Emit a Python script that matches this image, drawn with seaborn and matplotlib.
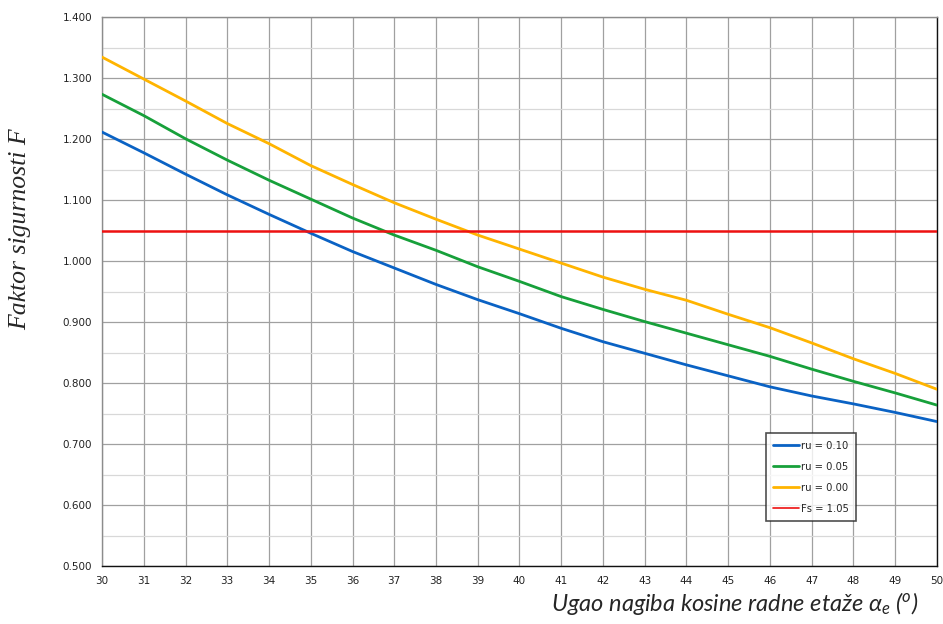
import numpy as np
import pandas as pd
import matplotlib
matplotlib.use("Agg")
import matplotlib.pyplot as plt
from matplotlib.lines import Line2D
import seaborn as sns

# podaci ocitani sa dijagrama
angle = list(range(30, 51))
ru_010 = [1.212, 1.178, 1.143, 1.109, 1.077, 1.046, 1.016, 0.989, 0.962, 0.937, 0.914,
          0.890, 0.868, 0.849, 0.830, 0.812, 0.794, 0.779, 0.766, 0.752, 0.737]
ru_005 = [1.274, 1.239, 1.201, 1.166, 1.133, 1.102, 1.071, 1.043, 1.018, 0.991, 0.967,
          0.942, 0.921, 0.901, 0.882, 0.863, 0.844, 0.823, 0.803, 0.784, 0.764]
ru_000 = [1.335, 1.299, 1.263, 1.226, 1.193, 1.157, 1.126, 1.096, 1.069, 1.043, 1.020,
          0.997, 0.974, 0.954, 0.936, 0.913, 0.891, 0.866, 0.840, 0.816, 0.790]
fs_limit = 1.05
series_labels = ["ru = 0.10", "ru = 0.05", "ru = 0.00"]
fs_label = "Fs = 1.05"
colors = ["#0a62c4", "#17a03a", "#ffb400"]
fs_color = "#ee1111"

df = pd.DataFrame({
    "angle": angle * 3,
    "F": ru_010 + ru_005 + ru_000,
    "serija": [series_labels[0]] * len(angle) + [series_labels[1]] * len(angle)
              + [series_labels[2]] * len(angle),
})

sns.set_style("white")
plt.rcParams["font.family"] = ["DejaVu Sans"]
plt.rcParams["mathtext.fontset"] = "custom"
plt.rcParams["mathtext.it"] = "Lato:italic"
plt.rcParams["mathtext.rm"] = "Lato:italic"

fig = plt.figure(figsize=(9.43, 6.24), dpi=100)
ax = fig.add_axes([0.1082, 0.0929, 0.8854, 0.8791])

sns.lineplot(data=df, x="angle", y="F", hue="serija", palette=colors,
             hue_order=series_labels, linewidth=2.0, ax=ax, legend=False, zorder=3)
ax.axhline(fs_limit, color=fs_color, linewidth=1.8, zorder=4)

ax.set_xlim(30, 50)
ax.set_ylim(0.5, 1.4)
ax.set_xticks(angle)
ax.set_yticks(np.arange(0.5, 1.4001, 0.1))
ax.set_yticks(np.arange(0.55, 1.4, 0.1), minor=True)
ax.yaxis.set_major_formatter(matplotlib.ticker.FormatStrFormatter("%.3f"))
ax.grid(which="major", color="#a0a0a0", linewidth=0.9, zorder=0)
ax.grid(which="minor", axis="y", color="#d8d8d8", linewidth=0.9, zorder=0)
ax.set_axisbelow(True)
ax.tick_params(which="major", length=4, width=0.8, color="#555555",
               labelsize=7.5, labelcolor="#222222", pad=3, direction="out")
ax.tick_params(which="minor", length=0)
ax.set_xlabel("")
ax.set_ylabel("")

for side in ["left", "top"]:
    ax.spines[side].set_color("#8c8c8c")
for side in ["bottom", "right"]:
    ax.spines[side].set_color("#111111")
for sp in ax.spines.values():
    sp.set_linewidth(1.0)
    sp.set_visible(True)

handles = [Line2D([0], [0], color=c, linewidth=2.0) for c in colors]
handles.append(Line2D([0], [0], color=fs_color, linewidth=1.2))
leg = ax.legend(handles, series_labels + [fs_label], loc="upper left",
                bbox_to_anchor=(0.795, 0.2425), fontsize=7.2, frameon=True,
                fancybox=False, edgecolor="#222222", handlelength=2.6,
                handletextpad=0.15, labelspacing=1.1, borderpad=0.75,
                borderaxespad=0)
leg.get_frame().set_linewidth(1.2)

fig.text(0.021, 0.633, "Faktor sigurnosti F", rotation=90, ha="center", va="center",
         fontsize=18.5, style="italic", family=["Liberation Serif"])
fig.text(0.779, 0.033, "Ugao nagiba kosine radne etaže α$_e$ ($^o$)", ha="center",
         va="center", fontsize=17, style="italic", family=["Lato", "DejaVu Sans"])

fig.savefig("out.png", dpi=100)
